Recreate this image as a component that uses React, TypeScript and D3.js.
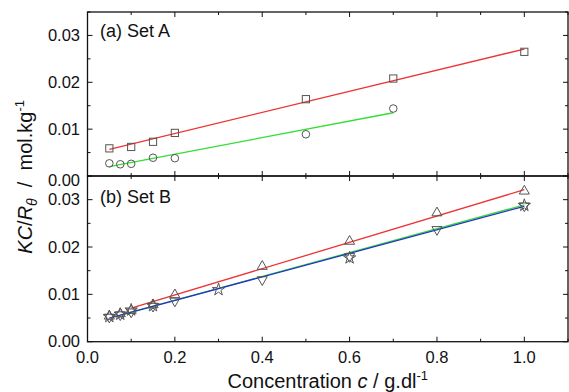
import React from "react";
import * as d3 from "d3";

const xTickValues = [0, 0.2, 0.4, 0.6, 0.8, 1.0];
const xMinorValues = [0.1, 0.3, 0.5, 0.7, 0.9, 1.1];
const yTickValues = [0, 0.01, 0.02, 0.03];
const yMinorValues = [0.005, 0.015, 0.025, 0.035];

// Set A
const sqX = [0.05, 0.1, 0.15, 0.2, 0.5, 0.7, 1.0];
const sqY = [0.0059, 0.0062, 0.0073, 0.0092, 0.0164, 0.0208, 0.0265];
const ciX = [0.05, 0.075, 0.1, 0.15, 0.2, 0.5, 0.7];
const ciY = [0.0027, 0.0025, 0.0026, 0.0039, 0.0038, 0.0089, 0.0144];
const fitARedX = [0.05, 1.0];
const fitARedY = [0.0057, 0.0271];
const fitAGreenX = [0.05, 0.7];
const fitAGreenY = [0.002, 0.0135];

// Set B
const upX = [0.05, 0.075, 0.1, 0.15, 0.2, 0.4, 0.6, 0.8, 1.0];
const upY = [0.0054, 0.0059, 0.0066, 0.0078, 0.0099, 0.0159, 0.0212, 0.0272, 0.0318];
const dnX = [0.05, 0.075, 0.1, 0.15, 0.2, 0.4, 0.6, 0.8, 1.0];
const dnY = [0.0052, 0.0057, 0.0063, 0.0075, 0.0086, 0.0131, 0.018, 0.0237, 0.0287];
const stX = [0.05, 0.075, 0.1, 0.15, 0.3, 0.6, 1.0];
const stY = [0.0053, 0.0058, 0.0067, 0.0076, 0.011, 0.0177, 0.0288];
const fitBRedX = [0.1, 1.0];
const fitBRedY = [0.0071, 0.0321];
const fitBGreenX = [0.075, 1.0];
const fitBGreenY = [0.0056, 0.0289];
const fitBBlueX = [0.05, 1.0];
const fitBBlueY = [0.005, 0.0286];

const W = 569;
const H = 392;
const L = 87.5;
const R = 568;
const TOPA = 12;
const MID = 176;
const BOT = 341.7;

const FONT = "'Liberation Sans', Arial, Helvetica, sans-serif";
const RED = "#ee3333";
const GREEN = "#33dd33";
const BLUE = "#2233cc";
const MARK = "#555";

const x = d3.scaleLinear().domain([0, 1.1]).range([L, R]);
const yA = d3.scaleLinear().domain([0, 0.035]).range([MID, TOPA]);
const yB = d3.scaleLinear().domain([0, 0.035]).range([BOT, MID]);

const zip = (xs: number[], ys: number[]) => xs.map((v, i) => [v, ys[i]] as [number, number]);

function Panel({ y, top, bottom, label, labelY, showBottomLabels, zeroOffset }: any) {
  const major = 5;
  const minor = 3;
  return (
    <g>
      {xTickValues.map((t) => (
        <g key={"xt" + t}>
          <line x1={x(t)} x2={x(t)} y1={bottom} y2={bottom - major} stroke="#111" strokeWidth={1} />
          <line x1={x(t)} x2={x(t)} y1={top} y2={top + major} stroke="#111" strokeWidth={1} />
        </g>
      ))}
      {xMinorValues.map((t) => (
        <g key={"xm" + t}>
          <line x1={x(t)} x2={x(t)} y1={bottom} y2={bottom - minor} stroke="#111" strokeWidth={1} />
          <line x1={x(t)} x2={x(t)} y1={top} y2={top + minor} stroke="#111" strokeWidth={1} />
        </g>
      ))}
      {yTickValues.map((t) => (
        <g key={"yt" + t}>
          <line x1={L} x2={L + major} y1={y(t)} y2={y(t)} stroke="#111" strokeWidth={1} />
          <line x1={R} x2={R - major} y1={y(t)} y2={y(t)} stroke="#111" strokeWidth={1} />
          <text
            x={80}
            y={y(t) + 5.5 + (t === 0 ? zeroOffset : 0)}
            textAnchor="end"
            fontFamily={FONT}
            fontSize={16.5}
            fill="#111"
          >
            {d3.format(".2f")(t)}
          </text>
        </g>
      ))}
      {yMinorValues.map((t) => (
        <g key={"ym" + t}>
          <line x1={L} x2={L + minor} y1={y(t)} y2={y(t)} stroke="#111" strokeWidth={1} />
          <line x1={R} x2={R - minor} y1={y(t)} y2={y(t)} stroke="#111" strokeWidth={1} />
        </g>
      ))}
      {showBottomLabels &&
        xTickValues.map((t) => (
          <text key={"xl" + t} x={x(t)} y={363} textAnchor="middle" fontFamily={FONT} fontSize={16.5} fill="#111">
            {d3.format(".1f")(t)}
          </text>
        ))}
      <text x={100} y={labelY} fontFamily={FONT} fontSize={18} fill="#111">
        {label}
      </text>
      <rect x={L} y={top} width={R - L} height={bottom - top} fill="none" stroke="#111" strokeWidth={1.3} />
    </g>
  );
}

function Marker({ kind, cx, cy }: { kind: string; cx: number; cy: number }) {
  const common = { fill: "none", stroke: MARK, strokeWidth: 1 };
  if (kind === "square") return <rect x={cx - 3.6} y={cy - 3.6} width={7.2} height={7.2} {...common} />;
  if (kind === "circle") return <circle cx={cx} cy={cy} r={3.8} {...common} />;
  if (kind === "up")
    return <path d={d3.symbol().type(d3.symbolTriangle).size(44)()!} transform={`translate(${cx},${cy})`} {...common} />;
  if (kind === "down")
    return (
      <path
        d={d3.symbol().type(d3.symbolTriangle).size(44)()!}
        transform={`translate(${cx},${cy}) rotate(180)`}
        {...common}
      />
    );
  return <path d={d3.symbol().type(d3.symbolStar).size(48)()!} transform={`translate(${cx},${cy})`} {...common} />;
}

export default function App() {
  const lineA = d3.line<[number, number]>().x((d) => x(d[0])).y((d) => yA(d[1]));
  const lineB = d3.line<[number, number]>().x((d) => x(d[0])).y((d) => yB(d[1]));
  return (
    <svg
      width={W}
      height={H}
      style={{ position: "absolute", left: 0, top: 0, display: "block", background: "#fff" }}
    >
      <rect width={W} height={H} fill="#fff" />
      <Panel y={yA} top={TOPA} bottom={MID} label="(a) Set A" labelY={36.5} showBottomLabels={false} zeroOffset={4} />
      <Panel y={yB} top={MID} bottom={BOT} label="(b) Set B" labelY={202.5} showBottomLabels={true} zeroOffset={0} />

      {/* Set A */}
      <path d={lineA(zip(fitARedX, fitARedY))!} stroke={RED} strokeWidth={1.3} fill="none" />
      <path d={lineA(zip(fitAGreenX, fitAGreenY))!} stroke={GREEN} strokeWidth={1.3} fill="none" />
      {zip(sqX, sqY).map((d, i) => (
        <Marker key={"sq" + i} kind="square" cx={x(d[0])} cy={yA(d[1])} />
      ))}
      {zip(ciX, ciY).map((d, i) => (
        <Marker key={"ci" + i} kind="circle" cx={x(d[0])} cy={yA(d[1])} />
      ))}

      {/* Set B */}
      <path d={lineB(zip(fitBRedX, fitBRedY))!} stroke={RED} strokeWidth={1.3} fill="none" />
      <path d={lineB(zip(fitBGreenX, fitBGreenY))!} stroke={GREEN} strokeWidth={1.3} fill="none" />
      <path d={lineB(zip(fitBBlueX, fitBBlueY))!} stroke={BLUE} strokeWidth={1.3} fill="none" />
      {zip(upX, upY).map((d, i) => (
        <Marker key={"up" + i} kind="up" cx={x(d[0])} cy={yB(d[1])} />
      ))}
      {zip(dnX, dnY).map((d, i) => (
        <Marker key={"dn" + i} kind="down" cx={x(d[0])} cy={yB(d[1])} />
      ))}
      {zip(stX, stY).map((d, i) => (
        <Marker key={"st" + i} kind="star" cx={x(d[0])} cy={yB(d[1])} />
      ))}

      {/* axis titles */}
      <text x={(L + R) / 2} y={388} textAnchor="middle" fontFamily={FONT} fontSize={20} fill="#111">
        <tspan>Concentration </tspan>
        <tspan fontStyle="italic">c</tspan>
        <tspan> / g.dl</tspan>
        <tspan fontSize={13} dy={-8}>-1</tspan>
      </text>
      <text
        transform={`translate(32,${(TOPA + BOT) / 2}) rotate(-90)`}
        textAnchor="middle"
        fontFamily={FONT}
        fontSize={20}
        fill="#111"
      >
        <tspan fontStyle="italic">KC</tspan>
        <tspan>/</tspan>
        <tspan fontStyle="italic">R</tspan>
        <tspan fontStyle="italic" fontSize={14} dy={5}>θ</tspan>
        <tspan dy={-5}>{"\u00A0\u00A0/\u00A0\u00A0mol.kg"}</tspan>
        <tspan fontSize={13} dy={-8}>-1</tspan>
      </text>
    </svg>
  );
}
